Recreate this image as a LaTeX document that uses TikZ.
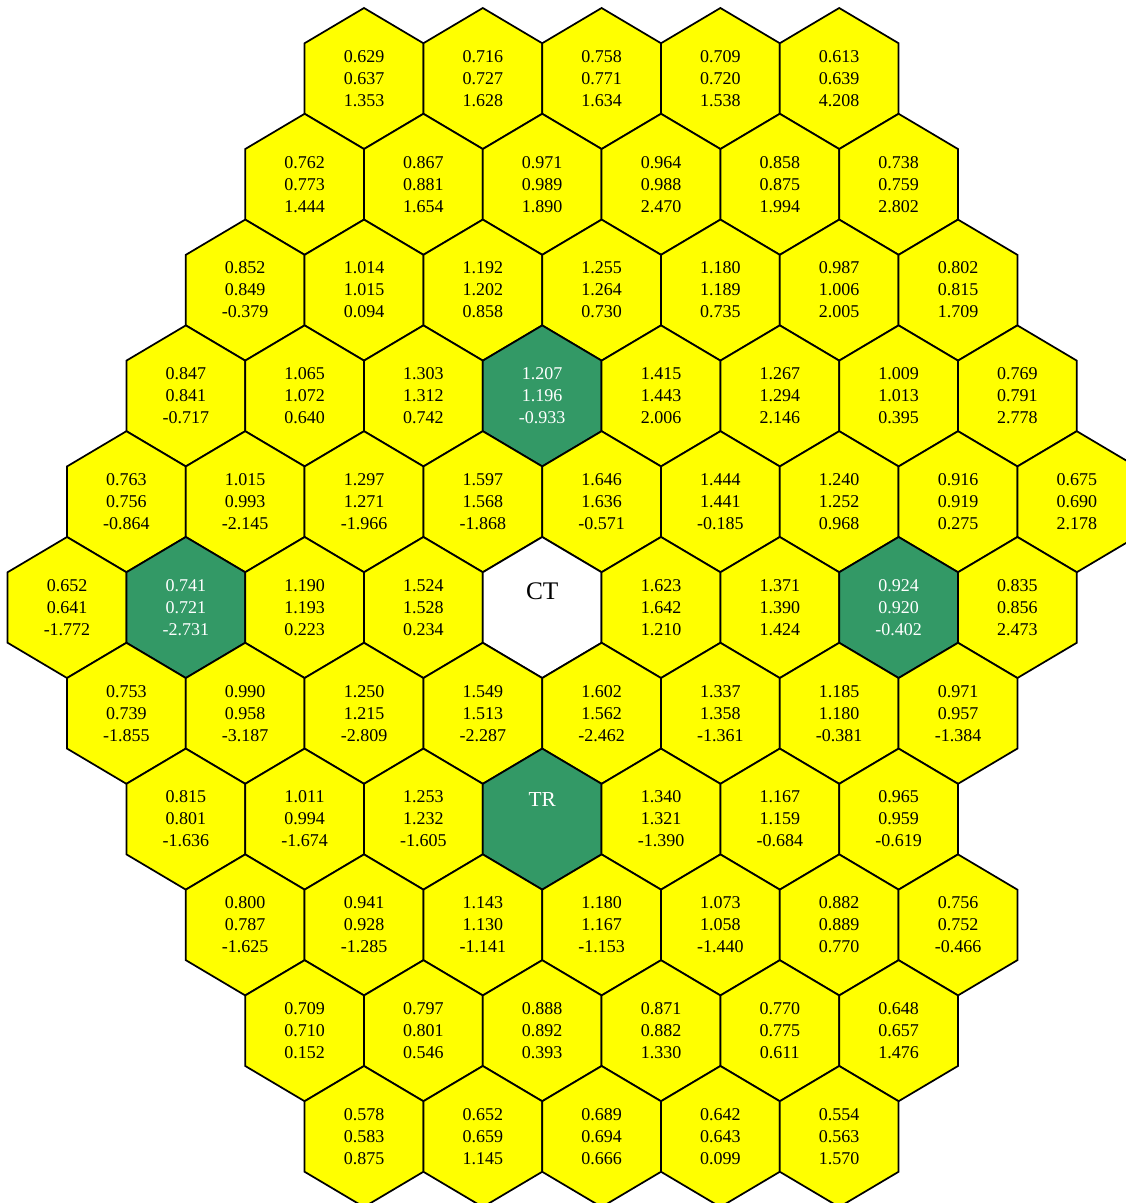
\documentclass[tikz,border=0pt]{standalone}
\usepackage{fontspec}
\setmainfont{Liberation Serif}
\usetikzlibrary{calc}
\definecolor{cFuel}{HTML}{FFFF00}
\definecolor{cRod}{HTML}{339966}
\tikzset{
  pics/hexcell/.style={code={%
    \path[pic actions] (0,-70.5) -- (59.4,-35.25) -- (59.4,35.25) -- (0,70.5)
      -- (-59.4,35.25) -- (-59.4,-35.25) -- cycle;}},
  yel/.style={draw=black, line width=1.3pt, fill=cFuel},
  grn/.style={yel, fill=cRod},
  wht/.style={yel, fill=white},
  yeltext/.style={
    align=center,
    inner sep=0pt,
    text=black,
    font=\fontsize{13.5}{16.5}\selectfont
  },
  grntext/.style={yeltext, text=white},
  whttext/.style={yeltext},
  celltag/.style={inner sep=0pt, font=\fontsize{#1}{#1}\selectfont}
}

\begin{document}
\begin{tikzpicture}[x=0.75pt, y=-0.75pt]
  \useasboundingbox (0,0) rectangle (1126,1203);
  \clip (0,0) rectangle (1126,1203);

  % rows of the core map: row / first column / cells
  \foreach \r/\ks/\cells in {
    0/6/{yel/0.629/0.637/1.353, yel/0.716/0.727/1.628, yel/0.758/0.771/1.634, yel/0.709/0.720/1.538, yel/0.613/0.639/4.208},
    1/5/{yel/0.762/0.773/1.444, yel/0.867/0.881/1.654, yel/0.971/0.989/1.890, yel/0.964/0.988/2.470, yel/0.858/0.875/1.994, yel/0.738/0.759/2.802},
    2/4/{yel/0.852/0.849/-0.379, yel/1.014/1.015/0.094, yel/1.192/1.202/0.858, yel/1.255/1.264/0.730, yel/1.180/1.189/0.735, yel/0.987/1.006/2.005, yel/0.802/0.815/1.709},
    3/3/{yel/0.847/0.841/-0.717, yel/1.065/1.072/0.640, yel/1.303/1.312/0.742, grn/1.207/1.196/-0.933, yel/1.415/1.443/2.006, yel/1.267/1.294/2.146, yel/1.009/1.013/0.395, yel/0.769/0.791/2.778},
    4/2/{yel/0.763/0.756/-0.864, yel/1.015/0.993/-2.145, yel/1.297/1.271/-1.966, yel/1.597/1.568/-1.868, yel/1.646/1.636/-0.571, yel/1.444/1.441/-0.185, yel/1.240/1.252/0.968, yel/0.916/0.919/0.275, yel/0.675/0.690/2.178},
    5/1/{yel/0.652/0.641/-1.772, grn/0.741/0.721/-2.731, yel/1.190/1.193/0.223, yel/1.524/1.528/0.234, wht/{}/{}/{}, yel/1.623/1.642/1.210, yel/1.371/1.390/1.424, grn/0.924/0.920/-0.402, yel/0.835/0.856/2.473},
    6/2/{yel/0.753/0.739/-1.855, yel/0.990/0.958/-3.187, yel/1.250/1.215/-2.809, yel/1.549/1.513/-2.287, yel/1.602/1.562/-2.462, yel/1.337/1.358/-1.361, yel/1.185/1.180/-0.381, yel/0.971/0.957/-1.384},
    7/3/{yel/0.815/0.801/-1.636, yel/1.011/0.994/-1.674, yel/1.253/1.232/-1.605, grn/{}/{}/{}, yel/1.340/1.321/-1.390, yel/1.167/1.159/-0.684, yel/0.965/0.959/-0.619},
    8/4/{yel/0.800/0.787/-1.625, yel/0.941/0.928/-1.285, yel/1.143/1.130/-1.141, yel/1.180/1.167/-1.153, yel/1.073/1.058/-1.440, yel/0.882/0.889/0.770, yel/0.756/0.752/-0.466},
    9/5/{yel/0.709/0.710/0.152, yel/0.797/0.801/0.546, yel/0.888/0.892/0.393, yel/0.871/0.882/1.330, yel/0.770/0.775/0.611, yel/0.648/0.657/1.476},
    10/6/{yel/0.578/0.583/0.875, yel/0.652/0.659/1.145, yel/0.689/0.694/0.666, yel/0.642/0.643/0.099, yel/0.554/0.563/1.570}%
  }{
    \foreach [count=\i from 0] \s/\a/\b/\c in \cells {
      \pgfmathtruncatemacro\k{\ks+2*\i}
      \pic[\s] at ({7.6+59.4*\k}, {78.5+105.8*\r}) {hexcell};
      \node[\s text] (c\r-\k) at ({7.6+59.4*\k}, {78.5+105.8*\r}) {\a\\\b\\\c};
    }
  }

  % central tube and transient rod
  \node[celltag=19] (ct) at ($(c5-9)+(0,-16)$) {CT};
  \node[celltag=16, text=white] (tr) at ($(c7-9)+(0,-20)$) {TR};
\end{tikzpicture}
\end{document}
